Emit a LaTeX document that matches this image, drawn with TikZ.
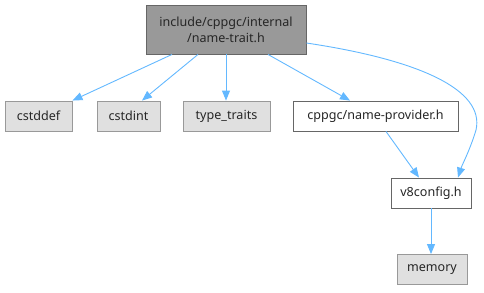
\documentclass[tikz,border=0pt]{standalone}
\usepackage{fontspec}
\setmainfont{Noto Sans}
\usetikzlibrary{arrows.meta}
\definecolor{edgeblue}{HTML}{63B8FF}
\definecolor{sysfill}{HTML}{E0E0E0}
\definecolor{sysdraw}{HTML}{999999}
\definecolor{curfill}{HTML}{999999}
\definecolor{curdraw}{HTML}{666666}
\begin{document}
\begin{tikzpicture}[x=1bp,y=-1bp,
  box/.style={draw, line width=0.9bp, inner sep=0pt, font=\fontsize{12.6}{16}\selectfont, align=center, text=black!85},
  sysbox/.style={box, fill=sysfill, draw=sysdraw},
  filebox/.style={box, fill=white, draw=curdraw},
  curbox/.style={box, fill=curfill, draw=curdraw},
  dep/.style={draw=edgeblue, line width=0.9bp, -{Triangle[length=10bp,width=8bp]}}]
\useasboundingbox (0,0) rectangle (484,292);
\node[curbox, minimum width=160bp, minimum height=49bp] (top) at (226,29.5) {include/cppgc/internal\\/name-trait.h};
\node[sysbox, minimum width=67bp, minimum height=30bp] (cstddef) at (38.5,116) {cstddef};
\node[sysbox, minimum width=63bp, minimum height=30bp] (cstdint) at (128.5,116) {cstdint};
\node[sysbox, minimum width=87bp, minimum height=30bp] (traits) at (226.5,116) {type\_traits};
\node[filebox, minimum width=165bp, minimum height=30bp] (provider) at (375.5,116) {cppgc/name-provider.h};
\node[filebox, minimum width=80bp, minimum height=30bp] (v8config) at (431,193) {v8config.h};
\node[sysbox, minimum width=70bp, minimum height=30bp] (memory) at (432,269.5) {memory};
\draw[dep] (top.south -| 172,0) -- (cstddef.north east);
\draw[dep] (top.south -| 198,0) -- (cstdint.north -| 142,0);
\draw[dep] (top.south) -- (traits.north -| 226,0);
\draw[dep] (top.south -| 268,0) -- (provider.north -| 350,0);
\draw[dep] (top.east |- 0,43) .. controls (420,60) and (485,90) .. (476,130) .. controls (470,150) and (462,165) .. (v8config.north -| 458,0);
\draw[dep] (provider.south -| 386,0) -- (v8config.north -| 419,0);
\draw[dep] (v8config.south -| 431,0) -- (memory.north -| 431,0);
\end{tikzpicture}
\end{document}
